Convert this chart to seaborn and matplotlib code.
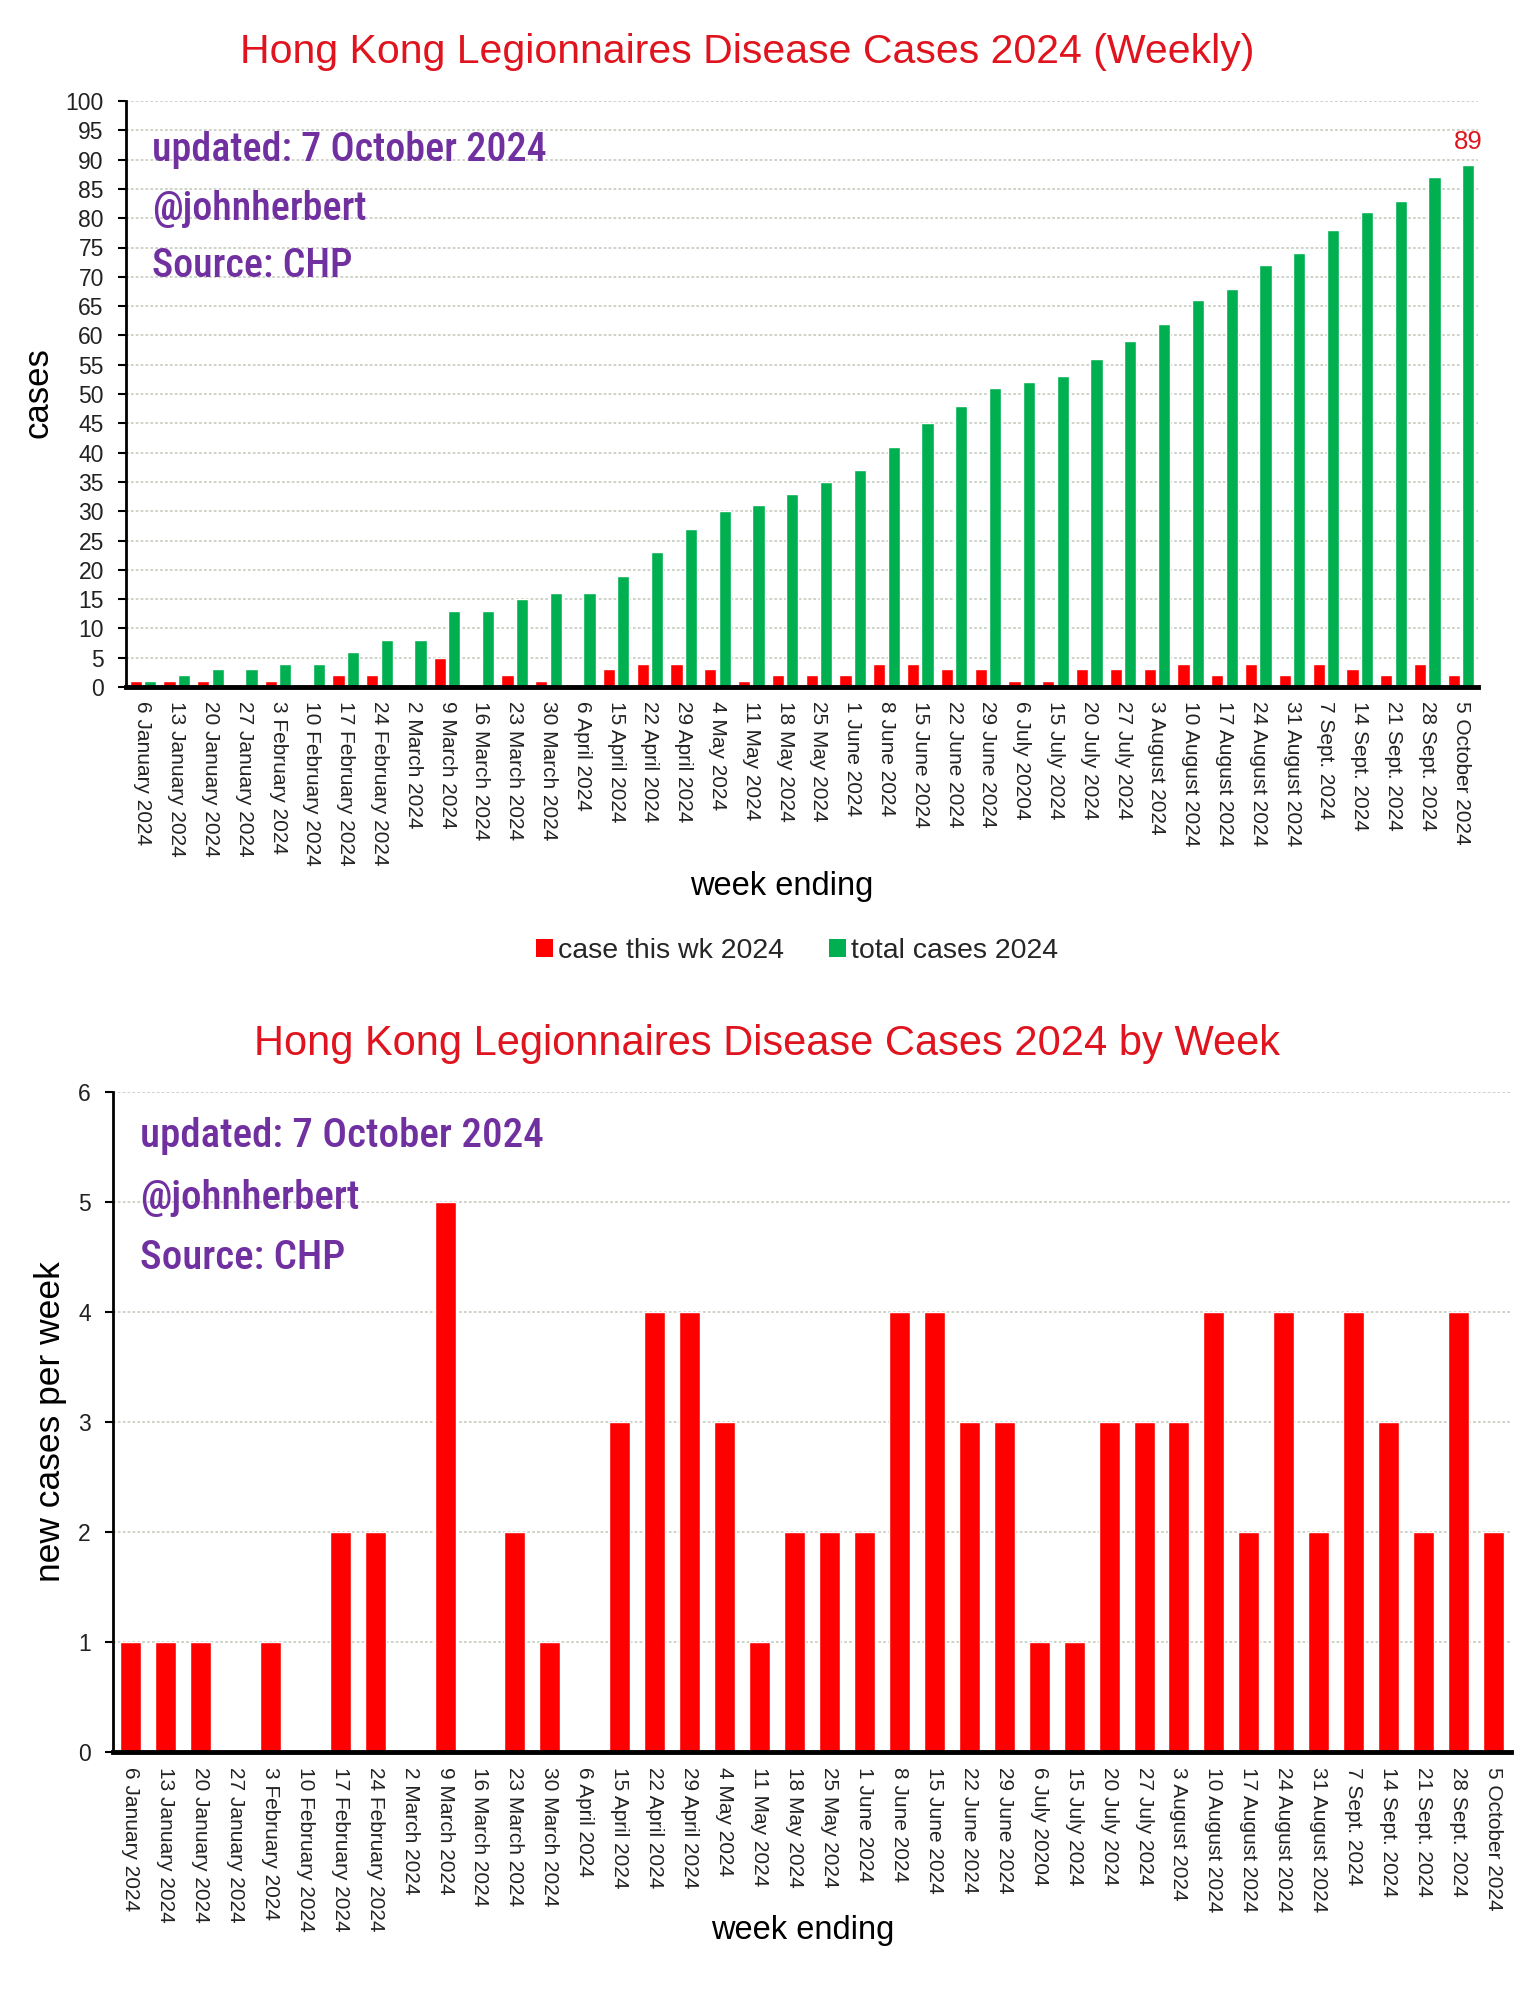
import numpy as np
import pandas as pd
import seaborn as sns
import matplotlib
matplotlib.use("Agg")
import matplotlib.pyplot as plt
from matplotlib import font_manager as fm
from matplotlib.patches import Patch

# ---------------- data ----------------
weeks = [
    "6 January 2024", "13 January 2024", "20 January 2024", "27 January 2024",
    "3 February 2024", "10 February 2024", "17 February 2024", "24 February 2024",
    "2 March 2024", "9 March 2024", "16 March 2024", "23 March 2024", "30 March 2024",
    "6 April 2024", "15 April 2024", "22 April 2024", "29 April 2024",
    "4 May 2024", "11 May 2024", "18 May 2024", "25 May 2024",
    "1 June 2024", "8 June 2024", "15 June 2024", "22 June 2024", "29 June 2024",
    "6 July 20204", "15 July 2024", "20 July 2024", "27 July 2024",
    "3 August 2024", "10 August 2024", "17 August 2024", "24 August 2024", "31 August 2024",
    "7 Sept. 2024", "14 Sept. 2024", "21 Sept. 2024", "28 Sept. 2024", "5 October 2024",
]
new_cases = [1, 1, 1, 0, 1, 0, 2, 2, 0, 5, 0, 2, 1, 0, 3, 4, 4, 3, 1, 2,
             2, 2, 4, 4, 3, 3, 1, 1, 3, 3, 3, 4, 2, 4, 2, 4, 3, 2, 4, 2]
total_cases = [1, 2, 3, 3, 4, 4, 6, 8, 8, 13, 13, 15, 16, 16, 19, 23, 27, 30, 31, 33,
               35, 37, 41, 45, 48, 51, 52, 53, 56, 59, 62, 66, 68, 72, 74, 78, 81, 83, 87, 89]
series_names = ["case this wk 2024", "total cases 2024"]
top_yticks = list(range(0, 101, 5))
bottom_yticks = list(range(0, 7))
title_top = "Hong Kong Legionnaires Disease Cases 2024 (Weekly)"
title_bottom = "Hong Kong Legionnaires Disease Cases 2024 by Week"
notes = ["updated: 7 October 2024", "@johnherbert", "Source: CHP"]
last_total_label = "89"

# ---------------- style ----------------
sns.set_style("white")
plt.rcParams["font.family"] = ["Liberation Sans", "DejaVu Sans"]
RED = "#FF0000"
GREEN = "#00B050"
TITLE_RED = "#E0141E"
PURPLE = "#7030A0"
GRID = "#C9D0C2"
TEXT = "#222222"

fig = plt.figure(figsize=(15.34, 20), dpi=100)
W, H = 1534, 2000


def ax_rect(left, top, right, bottom):
    return [left / W, 1 - bottom / H, (right - left) / W, (bottom - top) / H]


# ---------------- purple note font ----------------
def pick_note_font():
    prefs = ["Roboto Condensed", "DejaVu Sans", "Liberation Sans Narrow", "Open Sans"]
    cands = []
    for f in fm.fontManager.ttflist:
        fn = f.fname.lower()
        if ("condensed" in fn or "narrow" in fn) and f.style == "normal":
            cands.append(f)

    def score(f):
        try:
            rank = prefs.index(f.name)
        except ValueError:
            rank = len(prefs)
        w = f.weight if isinstance(f.weight, int) else {"bold": 700, "normal": 400, "medium": 500}.get(str(f.weight), 400)
        return (rank, abs(w - 500))

    if cands:
        best = sorted(cands, key=score)[0]
        return fm.FontProperties(fname=best.fname)
    return fm.FontProperties(family="Roboto", weight="medium")


note_fp = pick_note_font()


def add_notes(x, ys, target_w):
    fp = note_fp.copy()
    fp.set_size(30)
    t = fig.text(x / W, 1 - ys[0] / H, notes[0], fontproperties=fp, color=PURPLE,
                 ha="left", va="center", zorder=10)
    fig.canvas.draw()
    w = t.get_window_extent(fig.canvas.get_renderer()).width
    size = 30 * target_w / w
    fp.set_size(size)
    t.set_fontproperties(fp)
    for s, y in zip(notes[1:], ys[1:]):
        fig.text(x / W, 1 - y / H, s, fontproperties=fp, color=PURPLE,
                 ha="left", va="center", zorder=10)


def style_axes(ax, yticks):
    ax.set_yticks(yticks)
    ax.set_ylim(yticks[0], yticks[-1])
    ax.set_xlim(-0.5, len(weeks) - 0.5)
    ax.grid(axis="y", color=GRID, linestyle=(0, (1.5, 1.2)), linewidth=1.3)
    ax.grid(axis="x", visible=False)
    ax.set_axisbelow(True)
    for s in ["top", "right"]:
        ax.spines[s].set_visible(False)
    ax.spines["left"].set_color("black")
    ax.spines["left"].set_linewidth(2)
    ax.spines["bottom"].set_color("black")
    ax.spines["bottom"].set_linewidth(3.5)
    ax.spines["bottom"].set_zorder(5)
    ax.tick_params(axis="y", which="major", left=True, length=6, width=1.5,
                   color="black", pad=10, labelsize=16.5, labelcolor=TEXT)
    ax.tick_params(axis="x", which="major", bottom=False, length=0, pad=10,
                   labelsize=15, labelcolor=TEXT)
    ax.set_xticks(range(len(weeks)))
    ax.set_xticklabels(weeks, rotation=-90, ha="center", va="top")
    ax.set_xlabel("")
    ax.set_ylabel("")


# ---------------- top chart ----------------
ax1 = fig.add_axes(ax_rect(126, 101, 1478, 687))
df_top = pd.DataFrame({
    "week": weeks * 2,
    "cases": new_cases + total_cases,
    "series": [series_names[0]] * len(weeks) + [series_names[1]] * len(weeks),
})
sns.barplot(data=df_top, x="week", y="cases", hue="series", order=weeks,
            hue_order=series_names, palette={series_names[0]: RED, series_names[1]: GREEN},
            width=0.85, gap=0.15, saturation=1, errorbar=None, legend=False, ax=ax1)
style_axes(ax1, top_yticks)
ax1.annotate(last_total_label, xy=(len(weeks) - 1 + 0.2125, total_cases[-1]),
             xytext=(0, 8), textcoords="offset points", ha="center", va="bottom",
             color=TITLE_RED, fontsize=18.5)

fig.text(747 / W, 1 - 52 / H, title_top, color=TITLE_RED, fontsize=29.5, ha="center", va="center")
fig.text(38 / W, 1 - 393 / H, "cases", rotation=90, fontsize=25, ha="center", va="center", color="black")
fig.text(782 / W, 1 - 887 / H, "week ending", fontsize=23.5, ha="center", va="center", color="black")
handles = [Patch(facecolor=RED, edgecolor="none"), Patch(facecolor=GREEN, edgecolor="none")]
fig.legend(handles, series_names, loc="center", bbox_to_anchor=(797 / W, 1 - 951 / H), ncol=2,
           frameon=False, fontsize=20.5, handlelength=0.6, handleheight=0.6,
           handletextpad=0.15, columnspacing=1.6)

# ---------------- bottom chart ----------------
ax2 = fig.add_axes(ax_rect(113, 1092, 1511, 1752))
df_bot = pd.DataFrame({"week": weeks, "cases": new_cases})
sns.barplot(data=df_bot, x="week", y="cases", order=weeks, color=RED, width=0.6,
            saturation=1, errorbar=None, ax=ax2)
style_axes(ax2, bottom_yticks)
ax2.tick_params(axis="x", pad=11)

fig.text(767 / W, 1 - 1044 / H, title_bottom, color=TITLE_RED, fontsize=30, ha="center", va="center")
fig.text(51 / W, 1 - 1422 / H, "new cases per week", rotation=90, fontsize=25.5,
         ha="center", va="center", color="black")
fig.text(803 / W, 1 - 1930 / H, "week ending", fontsize=23.5, ha="center", va="center", color="black")

# ---------------- notes ----------------
add_notes(152, [150, 209, 266], 394)
add_notes(140, [1136, 1198, 1258], 403)

fig.savefig("out.png", dpi=100, facecolor="white")
